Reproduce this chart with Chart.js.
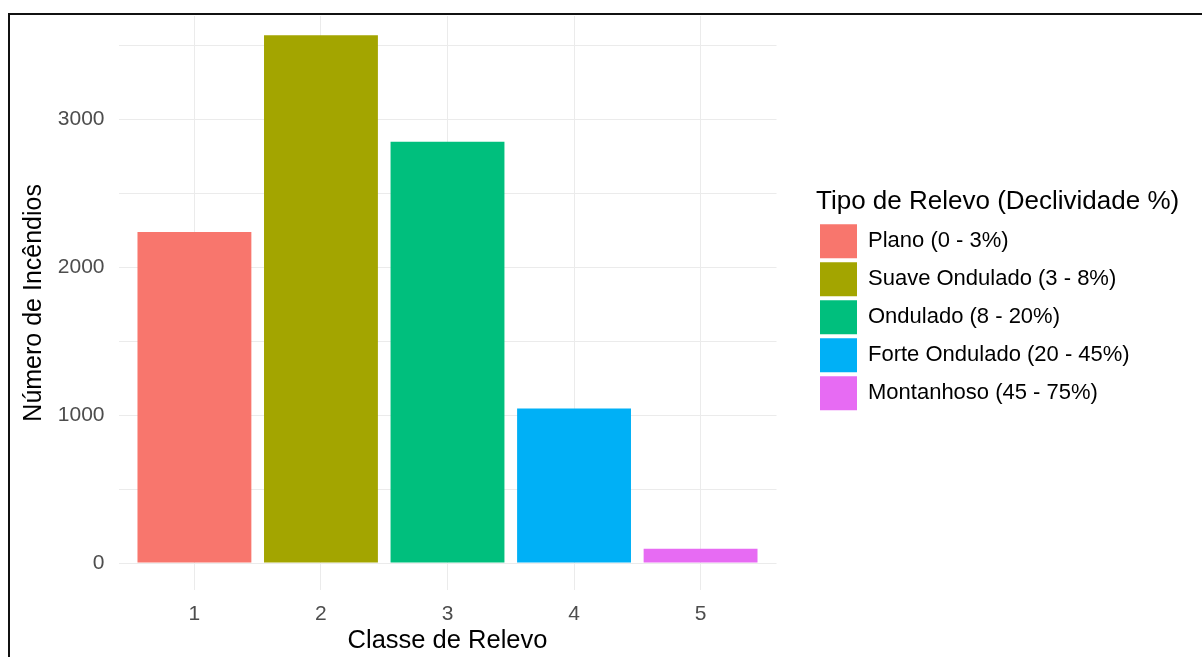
<!DOCTYPE html>
<html lang="pt-BR">
<head>
<meta charset="utf-8">
<title>Número de Incêndios por Classe de Relevo</title>
<script src="https://cdn.jsdelivr.net/npm/chart.js@4.4.1/dist/chart.umd.min.js"></script>
<style>
  html, body { margin: 0; padding: 0; background: #fff; overflow: hidden; }
  #wrap { position: absolute; left: 0; top: 0; width: 1202px; height: 657px; }
  #frame { position: absolute; left: 8px; top: 13px; width: 1400px; height: 900px;
           border-top: 2px solid #111; border-left: 2px solid #111; pointer-events: none; }
</style>
</head>
<body>
<div id="wrap"><canvas id="chart"></canvas></div>
<div id="frame"></div>
<script>
// Data
const classes = [1, 2, 3, 4, 5];
const reliefTypes = [
    'Plano (0 - 3%)',
    'Suave Ondulado (3 - 8%)',
    'Ondulado (8 - 20%)',
    'Forte Ondulado (20 - 45%)',
    'Montanhoso (45 - 75%)'
];
const fireCounts = [2240, 3570, 2850, 1045, 97];
const yTicks = [0, 500, 1000, 1500, 2000, 2500, 3000, 3500];   // major + minor grid
const yLabelled = [0, 1000, 2000, 3000];
const colors = ['#F8766D', '#A3A500', '#00BF7D', '#00B0F6', '#E76BF3'];

const FONT = 'Arial, "Liberation Sans", sans-serif';
const gridColor = '#ebebeb';

// the legend box is clipped to its own width; let the long title run to the edge
const legendRoom = {
    id: 'legendRoom',
    afterLayout(chart) {
        const lg = chart.legend;
        lg.right = chart.width;
        lg.width = lg.right - lg.left;
    }
};

// no extra room for half tick labels at the ends of the axes
const noEdgePadding = scale => {
    scale.paddingTop = 0;
    scale.paddingBottom = 0;
    scale.paddingLeft = 0;
    scale.paddingRight = 0;
};

const ctx = document.getElementById('chart').getContext('2d');
new Chart(ctx, {
    type: 'bar',
    data: {
        labels: classes,
        datasets: [{
            label: 'Número de Incêndios',
            data: fireCounts,
            backgroundColor: colors,
            borderWidth: 0,
            barPercentage: 0.9,
            categoryPercentage: 1
        }]
    },
    options: {
        responsive: true,
        maintainAspectRatio: false,
        animation: false,
        layout: {
            padding: { top: 16, left: 0, right: 106, bottom: 0 }
        },
        scales: {
            x: {
                type: 'linear',
                min: 0.4,
                max: 5.6,
                offset: false,
                afterBuildTicks: scale => {
                    scale.ticks = classes.map(v => ({ value: v }));
                },
                afterFit: scale => {
                    scale.height = 67.3;
                    noEdgePadding(scale);
                },
                grid: { color: gridColor, lineWidth: 1, drawTicks: false, offset: false },
                border: { display: false },
                ticks: {
                    padding: 11.5,
                    color: '#4d4d4d',
                    font: { family: FONT, size: 21 },
                    callback: v => String(v)
                },
                title: {
                    display: true,
                    text: 'Classe de Relevo',
                    color: '#000',
                    font: { family: FONT, size: 25.5 },
                    padding: { top: 0, bottom: 1 }
                }
            },
            y: {
                type: 'linear',
                position: 'left',
                min: -180,
                max: 3700,
                afterBuildTicks: scale => {
                    scale.ticks = yTicks.map(v => ({ value: v }));
                },
                afterFit: scale => {
                    scale.width = 118.5;
                    noEdgePadding(scale);
                },
                grid: { color: gridColor, lineWidth: 1, drawTicks: false },
                border: { display: false },
                ticks: {
                    padding: 14,
                    color: '#4d4d4d',
                    font: { family: FONT, size: 21 },
                    callback: v => yLabelled.includes(v) ? String(v) : ''
                },
                title: {
                    display: true,
                    text: 'Número de Incêndios',
                    color: '#000',
                    font: { family: FONT, size: 25 },
                    padding: { top: 19, bottom: 0 }
                }
            },
            // empty axis that only makes room between the panel and the legend
            gap: {
                type: 'linear',
                position: 'right',
                grid: { display: false },
                border: { display: false },
                ticks: { display: false },
                afterFit: scale => {
                    scale.width = 39.5;
                    noEdgePadding(scale);
                }
            }
        },
        plugins: {
            tooltip: { enabled: false },
            legend: {
                position: 'right',
                align: 'start',
                maxWidth: 280,
                title: {
                    display: true,
                    text: 'Tipo de Relevo (Declividade %)',
                    position: 'start',
                    color: '#000',
                    font: { family: FONT, size: 26 },
                    padding: { top: 173, bottom: 0 }
                },
                labels: {
                    boxWidth: 37,
                    boxHeight: 34,
                    padding: 4,
                    color: '#000',
                    font: { family: FONT, size: 22 },
                    generateLabels: () => reliefTypes.map((t, i) => ({
                        text: t,
                        fillStyle: colors[i],
                        strokeStyle: colors[i],
                        lineWidth: 0,
                        hidden: false,
                        index: i
                    }))
                }
            }
        }
    },
    plugins: [legendRoom]
});
</script>
</body>
</html>
